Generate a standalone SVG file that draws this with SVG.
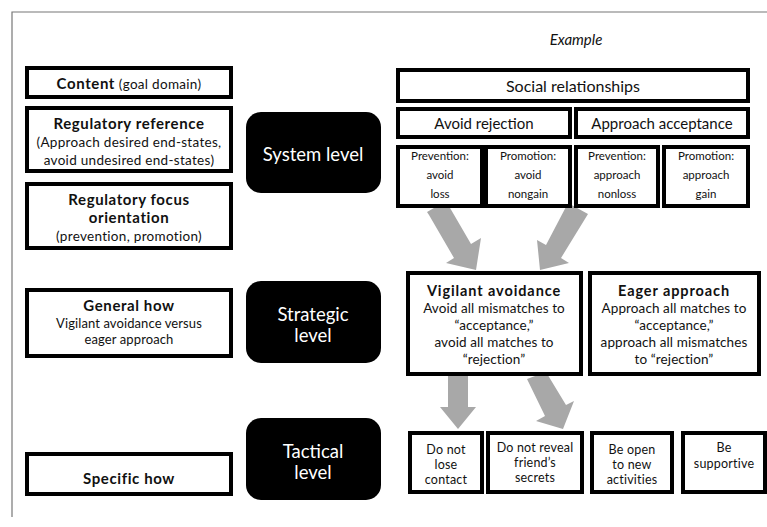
<svg xmlns="http://www.w3.org/2000/svg" width="767" height="527" viewBox="0 0 767 527">
<style>
.box{fill:#fff;stroke:#000;stroke-width:4}
.lvl{fill:#000}
.t{font-family:Lato,"Open Sans","Liberation Sans",sans-serif;text-anchor:middle;fill:#111}
.b{font-weight:bold}
.w{fill:#fff}
.arr{fill:#a8a8a8}
.lb{font-size:15px;font-weight:bold;letter-spacing:0.6px}
.lr{font-size:13.5px;letter-spacing:0.3px}
.vb{font-size:14.5px;font-weight:bold;letter-spacing:0.9px}
.vr{font-size:13.5px;letter-spacing:0.1px}
.sm{font-size:11.5px}
.tc{font-size:12.5px;letter-spacing:0.2px}
.lv{font-size:18.5px}
</style>
<rect width="767" height="527" fill="#fff"/>
<path d="M12,517 V12 H767" fill="none" stroke="#777" stroke-width="1.2"/>

<g id="content">
<rect class="box" x="27" y="68" width="204" height="29"/>
<text class="t" x="129" y="89"><tspan class="lb">Content</tspan><tspan class="lr"> (goal domain)</tspan></text>
</g>
<g id="regref">
<rect class="box" x="27" y="108" width="204" height="63"/>
<text class="t lb" x="129" y="129">Regulatory reference</text>
<text class="t lr" x="129" y="147">(Approach desired end-states,</text>
<text class="t lr" x="129" y="165">avoid undesired end-states)</text>
</g>
<g id="regfocus">
<rect class="box" x="27" y="184" width="204" height="64"/>
<text class="t lb" x="129" y="205">Regulatory focus</text>
<text class="t lb" x="129" y="223">orientation</text>
<text class="t lr" x="129" y="241">(prevention, promotion)</text>
</g>
<g id="generalhow">
<rect class="box" x="27" y="290" width="204" height="66"/>
<text class="t lb" x="129" y="311">General how</text>
<text class="t lr" x="129" y="328" style="letter-spacing:0.1px;font-size:13px">Vigilant avoidance versus</text>
<text class="t lr" x="129" y="344" style="letter-spacing:0.1px;font-size:13px">eager approach</text>
</g>
<g id="specifichow">
<rect class="box" x="27" y="454" width="204" height="40"/>
<text class="t lb" x="129" y="484">Specific how</text>
</g>

<g id="system">
<rect class="lvl" x="246" y="112" width="135" height="81" rx="15"/>
<text class="t w lv" x="313" y="161">System level</text>
</g>
<g id="strategic">
<rect class="lvl" x="246" y="281" width="135" height="82" rx="15"/>
<text class="t w lv" x="313" y="321">Strategic</text>
<text class="t w lv" x="313" y="342">level</text>
</g>
<g id="tactical">
<rect class="lvl" x="246" y="418" width="135" height="82" rx="15"/>
<text class="t w lv" x="313" y="458">Tactical</text>
<text class="t w lv" x="313" y="479">level</text>
</g>

<text class="t" x="576" y="45" font-size="15" font-style="italic">Example</text>

<g id="connectors">
<polygon class="arr" points="427,212 446,201 471,244 481,238 476,270 446,263 454,258 429,215"/>
<polygon class="arr" points="568,203 588,214 561,258 569,263 540,270 537,240 546,245"/>
<polygon class="arr" points="448,376 468,376 468,407 476,407 458,429 440,407 448,407"/>
<polygon class="arr" points="527,379 546,372 566,405 574,401 563,429 536,421 545,416"/>
</g>

<g id="social">
<rect class="box" x="398" y="70" width="350" height="31"/>
<text class="t" x="573" y="92" font-size="16">Social relationships</text>
</g>
<g id="avoidrej">
<rect class="box" x="398" y="109" width="172" height="28"/>
<text class="t" x="484" y="129" font-size="15">Avoid rejection</text>
</g>
<g id="approachacc">
<rect class="box" x="576" y="109" width="172" height="28"/>
<text class="t" x="662" y="129" font-size="15">Approach acceptance</text>
</g>
<g id="prevloss">
<rect class="box" x="398" y="147" width="84" height="59"/>
<text class="t sm" x="440" y="160">Prevention:</text>
<text class="t sm" x="440" y="179">avoid</text>
<text class="t sm" x="440" y="198">loss</text>
</g>
<g id="promnongain">
<rect class="box" x="486" y="147" width="84" height="59"/>
<text class="t sm" x="528" y="160">Promotion:</text>
<text class="t sm" x="528" y="179">avoid</text>
<text class="t sm" x="528" y="198">nongain</text>
</g>
<g id="prevnonloss">
<rect class="box" x="576" y="147" width="82" height="59"/>
<text class="t sm" x="617" y="160">Prevention:</text>
<text class="t sm" x="617" y="179">approach</text>
<text class="t sm" x="617" y="198">nonloss</text>
</g>
<g id="promgain">
<rect class="box" x="664" y="147" width="84" height="59"/>
<text class="t sm" x="706" y="160">Promotion:</text>
<text class="t sm" x="706" y="179">approach</text>
<text class="t sm" x="706" y="198">gain</text>
</g>

<g id="vigilant">
<rect class="box" x="408" y="273" width="173" height="101"/>
<text class="t vb" x="494" y="296">Vigilant avoidance</text>
<text class="t vr" x="494" y="313">Avoid all mismatches to</text>
<text class="t vr" x="494" y="330">“acceptance,”</text>
<text class="t vr" x="494" y="347">avoid all matches to</text>
<text class="t vr" x="494" y="364">“rejection”</text>
</g>
<g id="eager">
<rect class="box" x="590" y="273" width="169" height="101"/>
<text class="t vb" x="674" y="296">Eager approach</text>
<text class="t vr" x="674" y="313">Approach all matches to</text>
<text class="t vr" x="674" y="330">“acceptance,”</text>
<text class="t vr" x="674" y="347">approach all mismatches</text>
<text class="t vr" x="674" y="364">to “rejection”</text>
</g>

<g id="losecontact">
<rect class="box" x="410" y="433" width="72" height="59"/>
<text class="t tc" x="446" y="454">Do not</text>
<text class="t tc" x="446" y="469">lose</text>
<text class="t tc" x="446" y="484">contact</text>
</g>
<g id="reveal">
<rect class="box" x="488" y="433" width="94" height="59"/>
<text class="t tc" x="535" y="452">Do not reveal</text>
<text class="t tc" x="535" y="467">friend’s</text>
<text class="t tc" x="535" y="482">secrets</text>
</g>
<g id="open">
<rect class="box" x="592" y="433" width="80" height="59"/>
<text class="t tc" x="632" y="454">Be open</text>
<text class="t tc" x="632" y="469">to new</text>
<text class="t tc" x="632" y="484">activities</text>
</g>
<g id="supportive">
<rect class="box" x="683" y="433" width="82" height="59"/>
<text class="t tc" x="724" y="452">Be</text>
<text class="t tc" x="724" y="468">supportive</text>
</g>
</svg>
